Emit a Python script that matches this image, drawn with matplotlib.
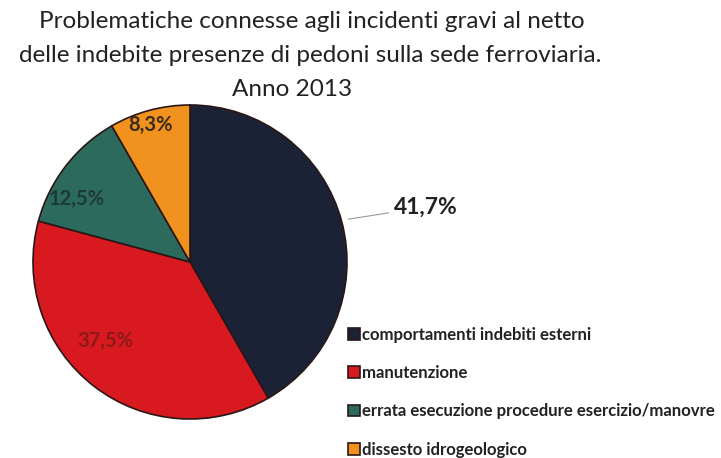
import matplotlib.pyplot as plt

# data
categories = ['comportamenti indebiti esterni', 'manutenzione',
              'errata esecuzione procedure esercizio/manovre', 'dissesto idrogeologico']
values = [41.7, 37.5, 12.5, 8.3]
labels = ['41,7%', '37,5%', '12,5%', '8,3%']
colors = ['#1c2236', '#d8191f', '#2b6a5d', '#f1921f']

plt.rcParams['font.family'] = ['Lato', 'DejaVu Sans']

W, H = 721, 458
fig = plt.figure(figsize=(W / 100, H / 100), dpi=100)

# pie axes placed by pixel: centre (190, 262), radius 157
cx, cy, r = 190, 262, 157
ax = fig.add_axes([(cx - r) / W, (H - cy - r) / H, 2 * r / W, 2 * r / H])
wedges, _ = ax.pie(values, colors=colors, startangle=90, counterclock=False,
                   wedgeprops=dict(edgecolor='#2a1616', linewidth=1.2))
ax.set_xlim(-1, 1)
ax.set_ylim(-1, 1)
ax.set_aspect('equal')
ax.axis('off')

# inside labels
ax.text(-0.25, 0.87, labels[3], ha='center', va='center', fontsize=14.5,
        fontweight='bold', color='#3a2a1a')
ax.text(-0.72, 0.40, labels[2], ha='center', va='center', fontsize=14.5,
        fontweight='bold', color='#1c3a36')
ax.text(-0.54, -0.50, labels[1], ha='center', va='center', fontsize=14.5,
        fontweight='bold', color='#8a1a1a')

# outside label with leader line
ax.annotate(labels[0], xy=(0.99, 0.27), xytext=(1.30, 0.35),
            ha='left', va='center', fontsize=16.5, fontweight='bold', color='#222222',
            arrowprops=dict(arrowstyle='-', color='#999999', lw=0.8),
            annotation_clip=False)

# title, three lines
fig.text(312 / W, 1 - 22 / H, 'Problematiche connesse agli incidenti gravi al netto',
         ha='center', va='center', fontsize=17.5, color='#222222')
fig.text(310 / W, 1 - 55 / H, 'delle indebite presenze di pedoni sulla sede ferroviaria.',
         ha='center', va='center', fontsize=17.5, color='#222222')
fig.text(292 / W, 1 - 89 / H, 'Anno 2013',
         ha='center', va='center', fontsize=17.5, color='#222222')

leg = fig.legend(wedges, categories, loc='upper left', bbox_to_anchor=(336 / W, 1 - 315 / H),
                 frameon=False, handlelength=0.7, handleheight=0.7, handletextpad=0.15,
                 labelspacing=1.33, borderpad=0.2, prop={'weight': 'bold', 'size': 12.1})
for t in leg.get_texts():
    t.set_color('#222222')

fig.savefig('out.png', dpi=100, facecolor='white')
